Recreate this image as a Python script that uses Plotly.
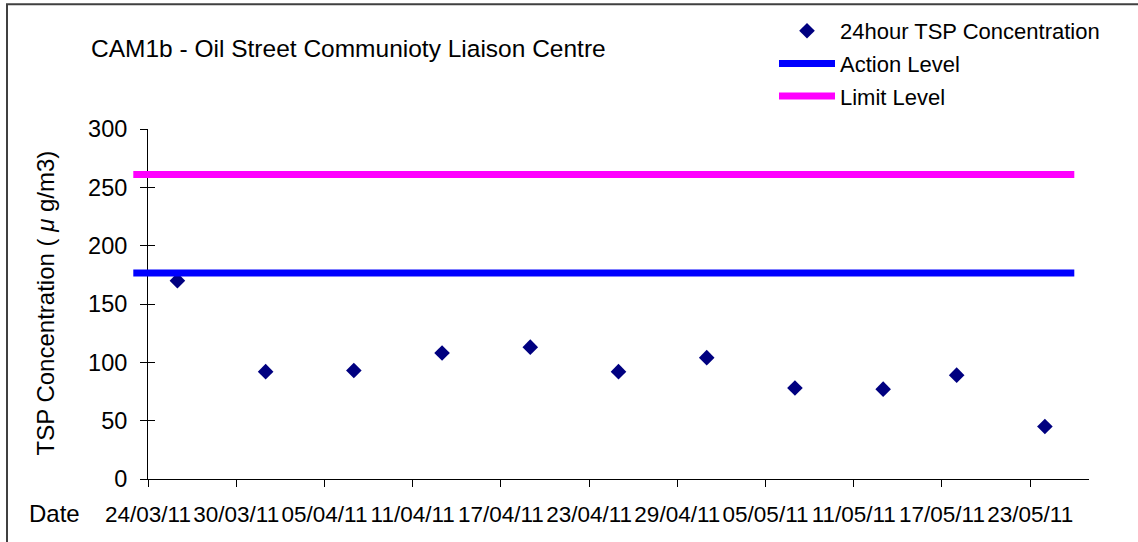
import pandas as pd
import plotly.graph_objects as go

# ---------------- data ----------------
sample_dates = ["26/03/11", "01/04/11", "07/04/11", "13/04/11", "19/04/11", "25/04/11",
                "01/05/11", "07/05/11", "13/05/11", "18/05/11", "24/05/11"]
tsp_values = [170, 92, 93, 108, 113, 92, 104, 78, 77, 89, 45]

level_dates = ["23/03/11", "26/05/11"]
action_level = [176.6, 176.6]
limit_level = [261, 261]

tick_labels = ["24/03/11", "30/03/11", "05/04/11", "11/04/11", "17/04/11", "23/04/11",
               "29/04/11", "05/05/11", "11/05/11", "17/05/11", "23/05/11"]

x_start = "24/03/11"
x_end = "27/05/11"

to_dt = lambda s: pd.to_datetime(s, format="%d/%m/%y")

# ---------------- geometry (px) ----------------
W, H = 1138, 542
ML, MR, MT, MB = 133, 49, 128, 63
PW = W - ML - MR
PH = H - MT - MB
axis_px = 148  # y-axis position
dom0 = (axis_px - ML) / PW

x0 = to_dt(x_start)
x1 = to_dt(x_end)
days = (x1 - x0) / pd.Timedelta(days=1)
px_per_day = (W - MR - axis_px) / days
x2_start = x0 - pd.Timedelta(days=(axis_px - ML) / px_per_day)

def px(xp):
    return (xp - ML) / PW

def py(yp):
    return 1 - (yp - MT) / PH

FONT = "Liberation Sans, Arial, sans-serif"
TICK = 22.5

fig = go.Figure()

fig.add_trace(go.Scatter(
    x=[to_dt(d) for d in sample_dates], y=tsp_values,
    mode="markers", name="24hour TSP Concentration",
    marker=dict(symbol="diamond", size=12, color="#000080"),
    xaxis="x", yaxis="y", legendgroup="a",
))
fig.add_trace(go.Scatter(
    x=[to_dt(d) for d in level_dates], y=action_level,
    mode="lines", name="Action Level",
    line=dict(color="#0000FF", width=7),
    xaxis="x2", yaxis="y2", legendgroup="b",
))
fig.add_trace(go.Scatter(
    x=[to_dt(d) for d in level_dates], y=limit_level,
    mode="lines", name="Limit Level",
    line=dict(color="#FF00FF", width=7),
    xaxis="x2", yaxis="y2", legendgroup="c",
))
# empty trace to register the overlay axes (inner tick marks)
fig.add_trace(go.Scatter(x=[], y=[], xaxis="x3", yaxis="y3", showlegend=False, hoverinfo="skip"))

tickvals = [to_dt(t) for t in tick_labels]

fig.update_layout(
    width=W, height=H,
    margin=dict(l=ML, r=MR, t=MT, b=MB),
    paper_bgcolor="white", plot_bgcolor="rgba(0,0,0,0)",
    font=dict(family=FONT, size=22, color="black"),
    showlegend=True,
    legend=dict(
        x=px(774), y=py(10), xanchor="left", yanchor="top",
        bgcolor="rgba(0,0,0,0)", font=dict(size=22, family=FONT),
        traceorder="grouped", tracegroupgap=1, itemwidth=56,
    ),
    xaxis=dict(
        domain=[dom0, 1], range=[x0, x1], anchor="y",
        showline=True, linecolor="black", linewidth=1,
        showgrid=False, zeroline=False,
        ticks="outside", ticklen=7, tickcolor="black", tickwidth=1,
        tickvals=tickvals, ticktext=tick_labels, tickangle=0,
        ticklabelstandoff=8,
        tickfont=dict(size=TICK, family=FONT),
    ),
    yaxis=dict(
        domain=[0, 1], range=[0, 300], anchor="x",
        showline=True, linecolor="black", linewidth=1,
        showgrid=False, zeroline=False,
        ticks="outside", ticklen=7, tickcolor="black", tickwidth=1,
        tick0=0, dtick=50, ticklabelstandoff=8,
        tickfont=dict(size=23.5, family=FONT),
    ),
    xaxis2=dict(domain=[0, 1], range=[x2_start, x1], anchor="y2",
                visible=False, showgrid=False, zeroline=False),
    yaxis2=dict(domain=[0, 1], range=[0, 300], anchor="x2",
                visible=False, showgrid=False, zeroline=False),
    xaxis3=dict(domain=[dom0, 1], range=[x0, x1], anchor="y3", overlaying="x",
                showline=False, showgrid=False, zeroline=False,
                ticks="inside", ticklen=7, tickcolor="black", tickwidth=1,
                tickvals=tickvals, showticklabels=False),
    yaxis3=dict(domain=[0, 1], range=[0, 300], anchor="x3", overlaying="y",
                showline=False, showgrid=False, zeroline=False,
                ticks="inside", ticklen=7, tickcolor="black", tickwidth=1,
                tick0=0, dtick=50, showticklabels=False),
    annotations=[
        dict(text="CAM1b - Oil Street Communioty Liaison Centre",
             x=px(89), y=py(47), xref="paper", yref="paper",
             xanchor="left", yanchor="middle", showarrow=False,
             font=dict(size=24.5, family=FONT)),
        dict(text="TSP Concentration ( <i>μ</i> g/m3)",
             x=px(46), y=py(303), xref="paper", yref="paper",
             xanchor="center", yanchor="middle", textangle=-90, showarrow=False,
             font=dict(size=24, family=FONT)),
        dict(text="Date",
             x=px(54), y=py(514), xref="paper", yref="paper",
             xanchor="center", yanchor="middle", showarrow=False,
             font=dict(size=24, family=FONT)),
    ],
    shapes=[
        dict(type="rect", xref="paper", yref="paper",
             x0=px(7), y0=py(560), x1=px(1160), y1=py(3),
             line=dict(color="#404040", width=2), fillcolor="rgba(0,0,0,0)"),
    ],
)

fig.write_html(
    "out.html",
    config={"displayModeBar": False},
    post_script="document.body.style.margin='0';document.body.style.overflow='hidden';",
)
